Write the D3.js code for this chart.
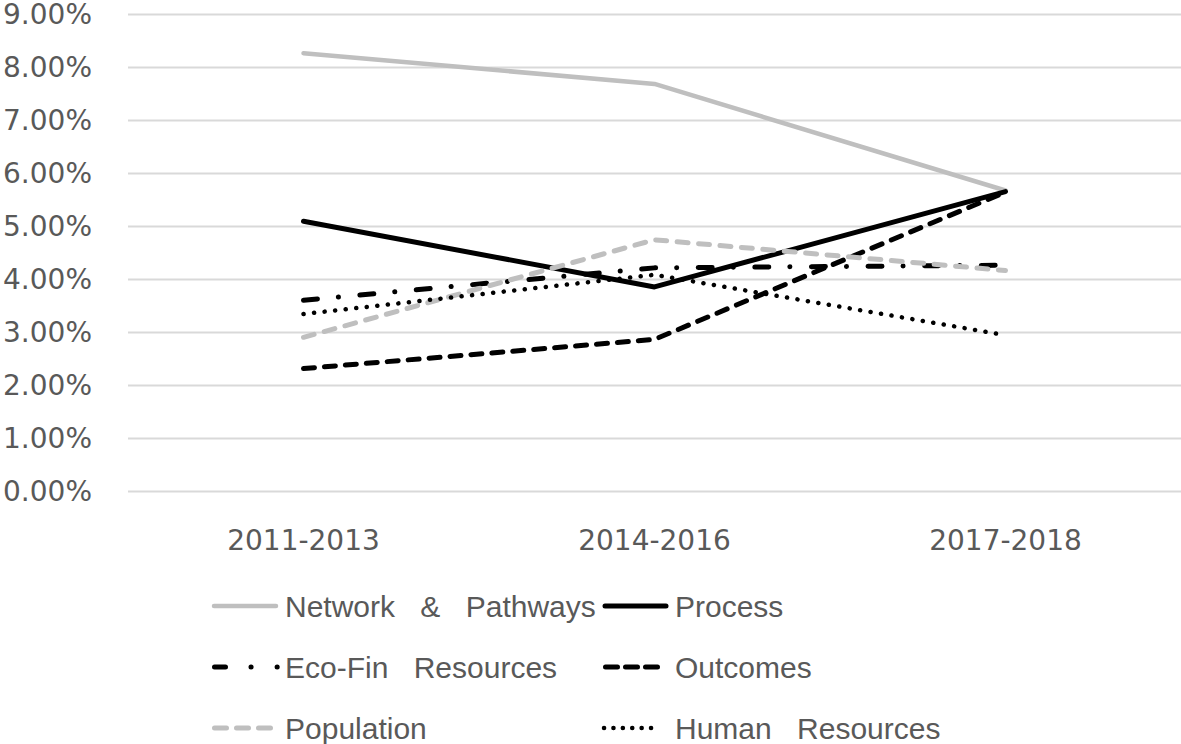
<!DOCTYPE html>
<html><head><meta charset="utf-8">
<script src="https://cdn.jsdelivr.net/npm/d3@7"></script>
<style>
html,body{margin:0;padding:0;background:#fff;}
svg{display:block;}
</style></head>
<body>
<svg id="chart" width="1181" height="744"></svg>
<script>
const categories = ["2011-2013", "2014-2016", "2017-2018"];
const seriesNames = ["Network & Pathways", "Process", "Eco-Fin Resources", "Outcomes", "Population", "Human Resources"];
const networkPathways = [8.26, 7.68, 5.67];
const process = [5.09, 3.85, 5.65];
const ecoFinResources = [3.60, 4.21, 4.26];
const outcomes = [2.31, 2.86, 5.64];
const population = [2.90, 4.74, 4.16];
const humanResources = [3.34, 4.08, 2.94];
const yTicks = [0, 1, 2, 3, 4, 5, 6, 7, 8, 9];

const seriesValues = [networkPathways, process, ecoFinResources, outcomes, population, humanResources];
const styles = [
  {color:"#bfbfbf", w:4.5, dash:null, ldash:null},
  {color:"#000000", w:5, dash:null, ldash:null},
  {color:"#000000", w:5, dash:"14,21,0.1,21.5", ldash:"11,25.5,0.1,26,0.1,200"},
  {color:"#000000", w:5, dash:"11,10", ldash:"12,8"},
  {color:"#bfbfbf", w:5, dash:"11,10.5", ldash:"12,10"},
  {color:"#000000", w:4.5, dash:"0.1,10.5", ldash:"0.1,9.3"}
];

const svg = d3.select("#chart");
const plotLeft = 128, plotRight = 1181, plotTop = 14, plotBottom = 491;

const x = d3.scaleBand().domain(categories).range([plotLeft, plotRight]).padding(0);
const y = d3.scaleLinear().domain([0, 9]).range([plotBottom, plotTop]);

// gridlines
const yAxis = d3.axisLeft(y).tickValues(yTicks).tickSize(-(plotRight - plotLeft)).tickFormat(d => d3.format(".2f")(d) + "%");
const gy = svg.append("g").attr("transform", `translate(${plotLeft},0)`).call(yAxis);
gy.select(".domain").remove();
gy.selectAll(".tick line").attr("stroke", "#d9d9d9").attr("stroke-width", 2);
gy.selectAll(".tick text").attr("x", -36).attr("dy", "0.35em")
  .attr("fill", "#595959").style("font-family", "DejaVu Sans").style("font-size", "28px");

// x axis labels
const xAxis = d3.axisBottom(x).tickSize(0).tickPadding(0);
const gx = svg.append("g").attr("transform", `translate(0,${plotBottom})`).call(xAxis);
gx.select(".domain").remove();
gx.selectAll(".tick text").attr("y", 59).attr("dy", 0)
  .attr("fill", "#595959").style("font-family", "DejaVu Sans").style("font-size", "28px");

// lines
const line = d3.line().x((d, i) => x(categories[i]) + x.bandwidth() / 2).y(d => y(d));
seriesValues.forEach((vals, i) => {
  const s = styles[i];
  svg.append("path").datum(vals).attr("d", line)
    .attr("fill", "none").attr("stroke", s.color).attr("stroke-width", s.w)
    .attr("stroke-linecap", "round").attr("stroke-linejoin", "round")
    .attr("stroke-dasharray", s.dash);
});

// legend
const legendPos = [
  {x1:214, x2:276, tx:285, y:606},
  {x1:605, x2:666, tx:675, y:606},
  {x1:214.5, x2:278, tx:285, y:667},
  {x1:605.5, x2:657.5, tx:675, y:667},
  {x1:214.5, x2:270.5, tx:285, y:728},
  {x1:604, x2:660, tx:675, y:728}
];
seriesNames.forEach((name, i) => {
  const p = legendPos[i], s = styles[i];
  const g = svg.append("g");
  g.append("line").attr("x1", p.x1).attr("x2", p.x2).attr("y1", p.y).attr("y2", p.y)
    .attr("stroke", s.color).attr("stroke-width", s.w)
    .attr("stroke-linecap", "round").attr("stroke-dasharray", s.ldash);
  g.append("text").attr("x", p.tx).attr("y", p.y).attr("dy", "0.36em")
    .attr("fill", "#595959").style("font-family", "Liberation Sans, Arial, sans-serif")
    .style("font-size", "30px").style("word-spacing", "17px").text(name);
});
</script>
</body></html>
